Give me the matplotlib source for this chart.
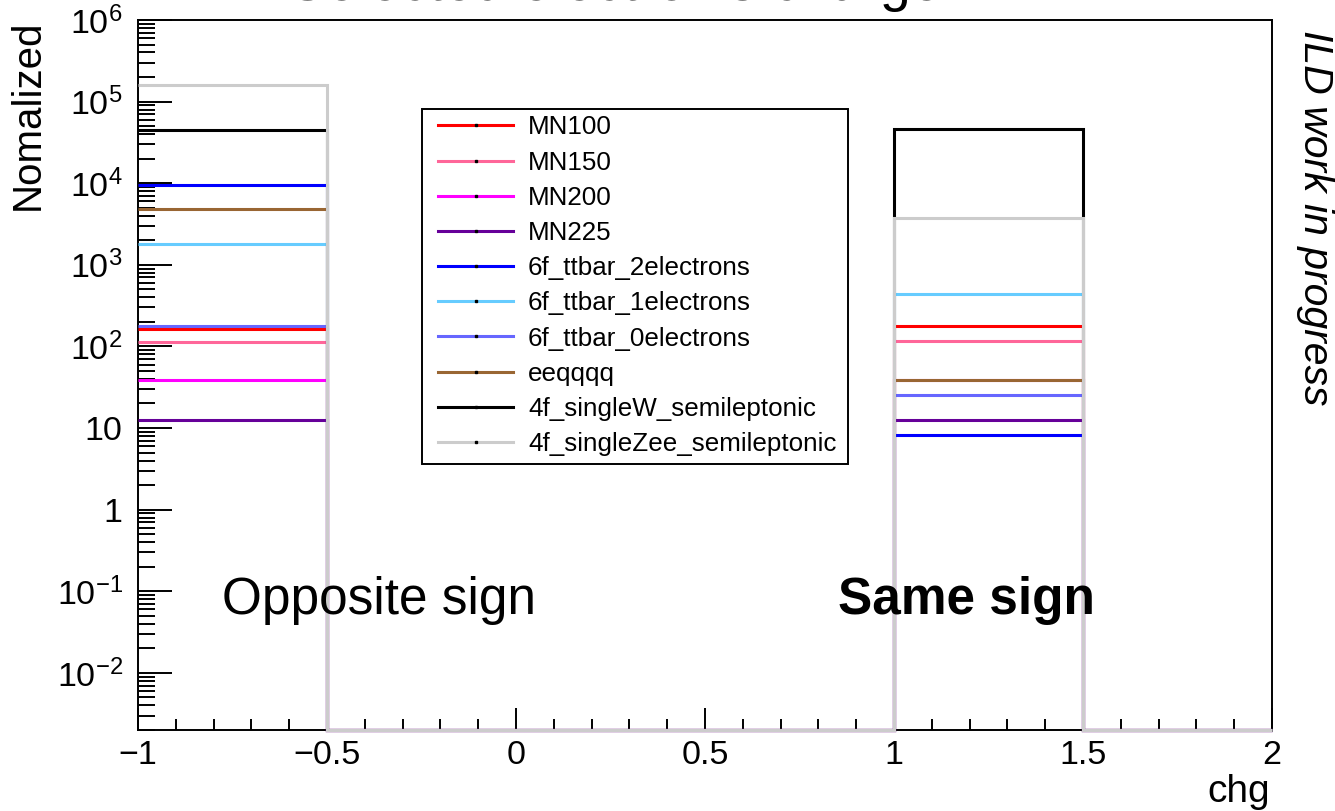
import numpy as np
import matplotlib
matplotlib.use("Agg")
import matplotlib.pyplot as plt
from matplotlib.lines import Line2D
from matplotlib.patches import Rectangle
from matplotlib.ticker import LogLocator, FuncFormatter, MultipleLocator, NullFormatter

plt.rcParams['font.family'] = ['Liberation Sans', 'DejaVu Sans']
plt.rcParams['mathtext.fontset'] = 'custom'
plt.rcParams['mathtext.rm'] = 'Liberation Sans'
plt.rcParams['mathtext.it'] = 'Liberation Sans:italic'
plt.rcParams['mathtext.bf'] = 'Liberation Sans:bold'

# ---- data ----
bin_edges = [-1.0, -0.5, 0.0, 0.5, 1.0, 1.5, 2.0]
sample_names = ["MN100", "MN150", "MN200", "MN225",
                "6f_ttbar_2electrons", "6f_ttbar_1electrons", "6f_ttbar_0electrons",
                "eeqqqq", "4f_singleW_semileptonic", "4f_singleZee_semileptonic"]
sample_colors = ["#ff0000", "#ff6699", "#ff00ff", "#660099",
                 "#0000ff", "#66ccff", "#6666ff",
                 "#996633", "#000000", "#cccccc"]
# content of bin [-1,-0.5] (opposite sign) and bin [1,1.5] (same sign)
opposite_sign = [164, 112, 39, 12.6, 9500, 1800, 177, 4800, 45000, 160000]
same_sign = [177, 116, 39, 12.6, 8.2, 440, 25.6, 39, 46000, 3800]

y_min, y_max = 10 ** -2.7, 1e6
x_min, x_max = -1.0, 2.0

W, H = 1335, 811
fig = plt.figure(figsize=(W / 100, H / 100), dpi=100)
ax = fig.add_axes([138 / W, 1 - 730 / H, 1134 / W, 710 / H])
ax.set_yscale('log')
ax.set_xlim(x_min, x_max)
ax.set_ylim(y_min, y_max)

for name, col, vo, vs in zip(sample_names, sample_colors, opposite_sign, same_sign):
    vals = np.array([vo, 0, 0, 0, vs, 0], dtype=float)
    vals_plot = np.where(vals > 0, vals, y_min)
    ax.stairs(vals_plot, bin_edges, baseline=None, color=col, lw=2.2,
              clip_on=False, zorder=3)

# spines
for s in ax.spines.values():
    s.set_linewidth(1.4)

# ticks
ax.yaxis.set_major_locator(LogLocator(base=10, numticks=20))
ax.yaxis.set_minor_locator(LogLocator(base=10, subs=np.arange(2, 10), numticks=100))
ax.yaxis.set_minor_formatter(NullFormatter())


def yfmt(v, pos):
    e = int(round(np.log10(v)))
    if e == 0:
        return '1'
    if e == 1:
        return '10'
    return r'$\mathdefault{10^{%d}}$' % e


ax.yaxis.set_major_formatter(FuncFormatter(yfmt))
ax.xaxis.set_major_locator(MultipleLocator(0.5))
ax.xaxis.set_minor_locator(MultipleLocator(0.1))
ax.xaxis.set_major_formatter(FuncFormatter(lambda v, p: ('%g' % v).replace('-', '\u2212')))

ax.tick_params(axis='y', which='major', direction='in', length=24.5, width=1.4,
               labelsize=24.5, pad=11, right=False)
ax.tick_params(axis='y', which='minor', direction='in', length=12, width=1.4, right=False)
ax.tick_params(axis='x', which='major', direction='in', length=16, width=1.4,
               labelsize=24.5, pad=7, top=False)
ax.tick_params(axis='x', which='minor', direction='in', length=8, width=1.4, top=False)

# legend (frame drawn separately)
frame = Rectangle((422 / W, 1 - 464 / H), 426 / W, 355 / H, transform=fig.transFigure,
                  facecolor='white', edgecolor='black', lw=1.4, zorder=5)
fig.add_artist(frame)
handles = [Line2D([0], [0], color=c, lw=2.2, marker='s', ms=1.6, mfc='k', mec='k')
           for c in sample_colors]
leg = ax.legend(handles, sample_names, loc='upper left',
                bbox_to_anchor=(432 / W, 1 - 109 / H), bbox_transform=fig.transFigure,
                fontsize=18.7, frameon=False,
                borderpad=0.25, labelspacing=0.43, handlelength=2.85, handletextpad=0.6,
                borderaxespad=0, numpoints=1)
leg.set_zorder(6)
leg.remove()
fig.add_artist(leg)

# texts
ax.text((222 - 138) / 1134, (730 - 614) / 710, 'Opposite sign', transform=ax.transAxes,
        fontsize=37, ha='left', va='baseline', zorder=4)
ax.text((838 - 138) / 1134, (730 - 614) / 710, 'Same sign', transform=ax.transAxes,
        fontsize=37, fontweight='bold', ha='left', va='baseline', zorder=4)

fig.text(28 / W, 1 - 20 / H, 'Nomalized', rotation=90, ha='center', va='top', fontsize=29)
fig.text(1270 / W, 1 - 802 / H, 'chg', ha='right', va='baseline', fontsize=28)
fig.text(1315 / W, 1 - 30 / H, 'ILD work in progress', rotation=-90, ha='center', va='top',
         fontsize=29.5, style='italic')
fig.text(615 / W, 1 - 0.5 / H, "Selected electron's charge", ha='center', va='baseline',
         fontsize=40)

fig.savefig('out.png', dpi=100)
